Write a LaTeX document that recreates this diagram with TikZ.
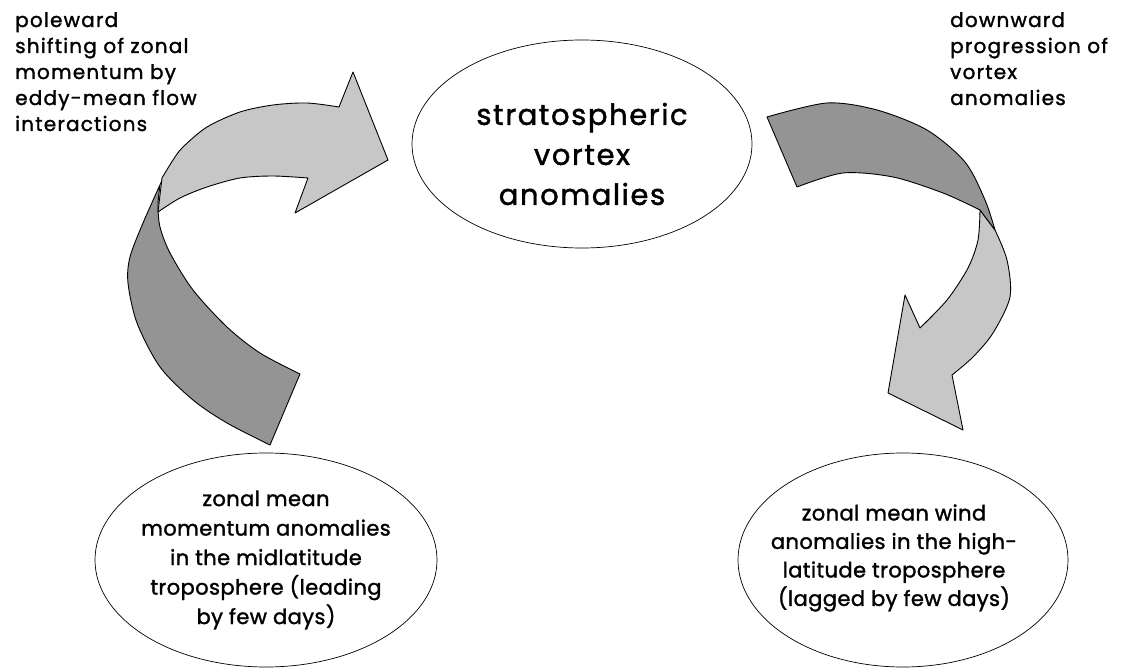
\documentclass[tikz,border=0pt]{standalone}
\usepackage{fontspec}
\setmainfont{Poppins}
\newfontfamily\bigface{Poppins}[LetterSpace=5.5,FakeBold=1.5]
\newfontfamily\smallface{Poppins}[LetterSpace=2,FakeBold=1.5]
\newfontfamily\noteface{Poppins}[LetterSpace=6,FakeBold=1.5]
\usetikzlibrary{shapes.geometric}
\tikzstyle{bubble}=[draw,line width=0.7pt]
\tikzstyle{bigtext}=[inner sep=0pt,align=center,font=\bigface\fontsize{29}{40}\selectfont]
\tikzstyle{smalltext}=[inner sep=0pt,align=center,font=\smallface\fontsize{21}{29.5}\selectfont]
\tikzstyle{note}=[inner sep=0pt,align=left,anchor=north west,font=\noteface\fontsize{20}{26}\selectfont]
\tikzstyle{frontband}=[draw,line width=0.9pt,line join=round,fill=black!22]
\tikzstyle{backband}=[draw,line width=0.9pt,line join=round,fill=black!42]

\begin{document}
\begin{tikzpicture}[x=1pt,y=-1pt]
    \useasboundingbox (0,0) rectangle (1125,668);
    % the three anomaly bubbles
    \coordinate (stratc) at (582,144);
    \coordinate (midlatc) at (266,560);
    \coordinate (highlatc) at (903,560);
    \draw[bubble] (stratc) ellipse [x radius=170, y radius=104];
    \draw[bubble] (midlatc) ellipse [x radius=171, y radius=107];
    \draw[bubble] (highlatc) ellipse [x radius=165, y radius=107];
    \node[bigtext] (strat) at (582,154) {stratospheric\\vortex\\anomalies};
    \node[smalltext] (midlat) at (266,560)
        {zonal mean\\momentum anomalies\\in the midlatitude\\troposphere (leading\\by few days)};
    \node[smalltext,font=\smallface\fontsize{21}{28.5}\selectfont] (highlat) at (894,558)
        {zonal mean wind\\anomalies in the high-\\latitude troposphere\\(lagged by few days)};
    % the two process labels
    \node[note] (eddy) at (15,12)
        {poleward\\shifting of zonal\\momentum by\\eddy-mean flow\\interactions};
    \node[note] (down) at (950,12)
        {downward\\progression of\\vortex\\anomalies};
    % left arrow: back side first, then front side with head
    \path[backband] plot[smooth] coordinates {(164,176) (143,223) (130,257) (128,283) (137,323)
            (160,367) (193,400) (227,423) (270,445)}
        -- (300,374)
        -- plot[smooth] coordinates {(300,374) (260,353) (227,327) (193,290) (170,253)
            (160,227) (158,205) (160,185)} -- cycle;
    \path[frontband] plot[smooth] coordinates {(339,107) (307,103) (273,105) (240,112)
            (207,127) (183,147) (173,160) (162,178)}
        -- (158,212)
        -- plot[smooth] coordinates {(158,212) (180,198) (207,187) (240,178) (273,176) (308,178)}
        -- (295,213) -- (388,160) -- (353,72) -- cycle;
    % right arrow
    \path[frontband] (980,210) -- (995,230)
        -- plot[smooth] coordinates {(995,230) (1007,260) (1010,297) (993,333) (973,357) (952,375)}
        -- (963,430) -- (888,393) -- (905,295)
        -- plot[smooth] coordinates {(920,328) (947,300) (968,268) (978,240) (980,210)} -- cycle;
    \path[backband] plot[smooth] coordinates {(767,117) (827,103) (877,110) (927,130)
            (965,162) (985,200) (995,230)}
        -- (980,210)
        -- plot[smooth] coordinates {(980,210) (943,193) (893,177) (843,173) (797,187)} -- cycle;
\end{tikzpicture}
\end{document}
